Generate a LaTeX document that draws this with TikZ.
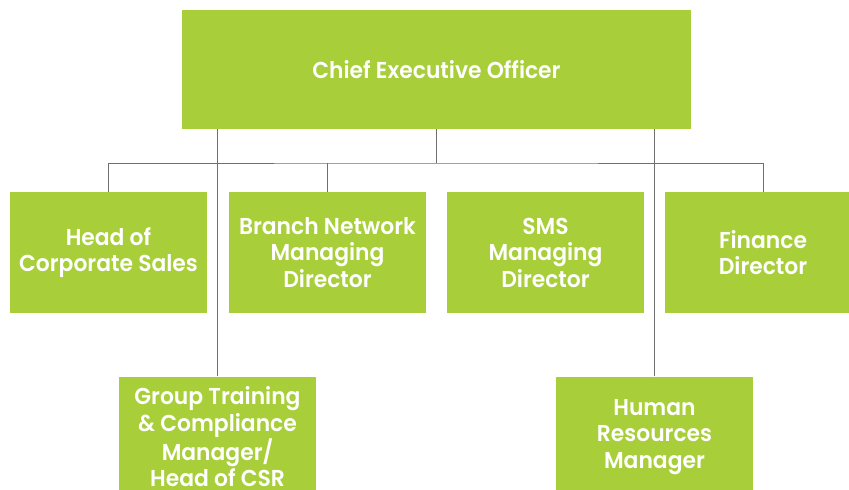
\documentclass[tikz,border=0pt]{standalone}
\usepackage{fontspec}
\setmainfont{Poppins}[FakeStretch=0.95, BoldFont={Poppins SemiBold}]
\definecolor{boxgreen}{HTML}{A8CE3A}
\definecolor{linegray}{HTML}{707070}
\begin{document}
\begin{tikzpicture}[x=1pt,y=-1pt,
  rolebox/.style={fill=boxgreen, text=white, font=\bfseries\fontsize{23}{26.5}\selectfont,
    align=center, inner sep=0pt, minimum width=197pt, minimum height=121pt},
  link/.style={draw=linegray, line width=1pt}]
\useasboundingbox (0,0) rectangle (849,490);
\clip (0,0) rectangle (849,490);
\node[rolebox, minimum width=509pt, minimum height=119pt] (ceo) at (436.5,69.5) {Chief Executive Officer};
\node[rolebox] (hcs) at (108.5,252.5) {Head of\\Corporate Sales};
\node[rolebox] (bnm) at (327.5,252.5) {Branch Network\\Managing\\Director};
\node[rolebox] (sms) at (545.5,252.5) {SMS\\Managing\\Director};
\node[rolebox] (fin) at (763,252.5) {Finance\\Director};
\node[rolebox] (gtc) at (217.5,437) {Group Training\\\& Compliance\\Manager/\\Head of CSR};
\node[rolebox] (hrm) at (654.5,437) {Human\\Resources\\Manager};
\coordinate (bus) at (436.5,163);
\draw[link] (ceo.south) -- (bus);
\draw[link] (hcs.north) |- (bus) -| (fin.north);
\draw[link] (bnm.north) -- (bnm.north |- bus);
\draw[link] (gtc.north) -- (gtc.north |- ceo.south);
\draw[link] (hrm.north) -- (hrm.north |- ceo.south);
\end{tikzpicture}
\end{document}
